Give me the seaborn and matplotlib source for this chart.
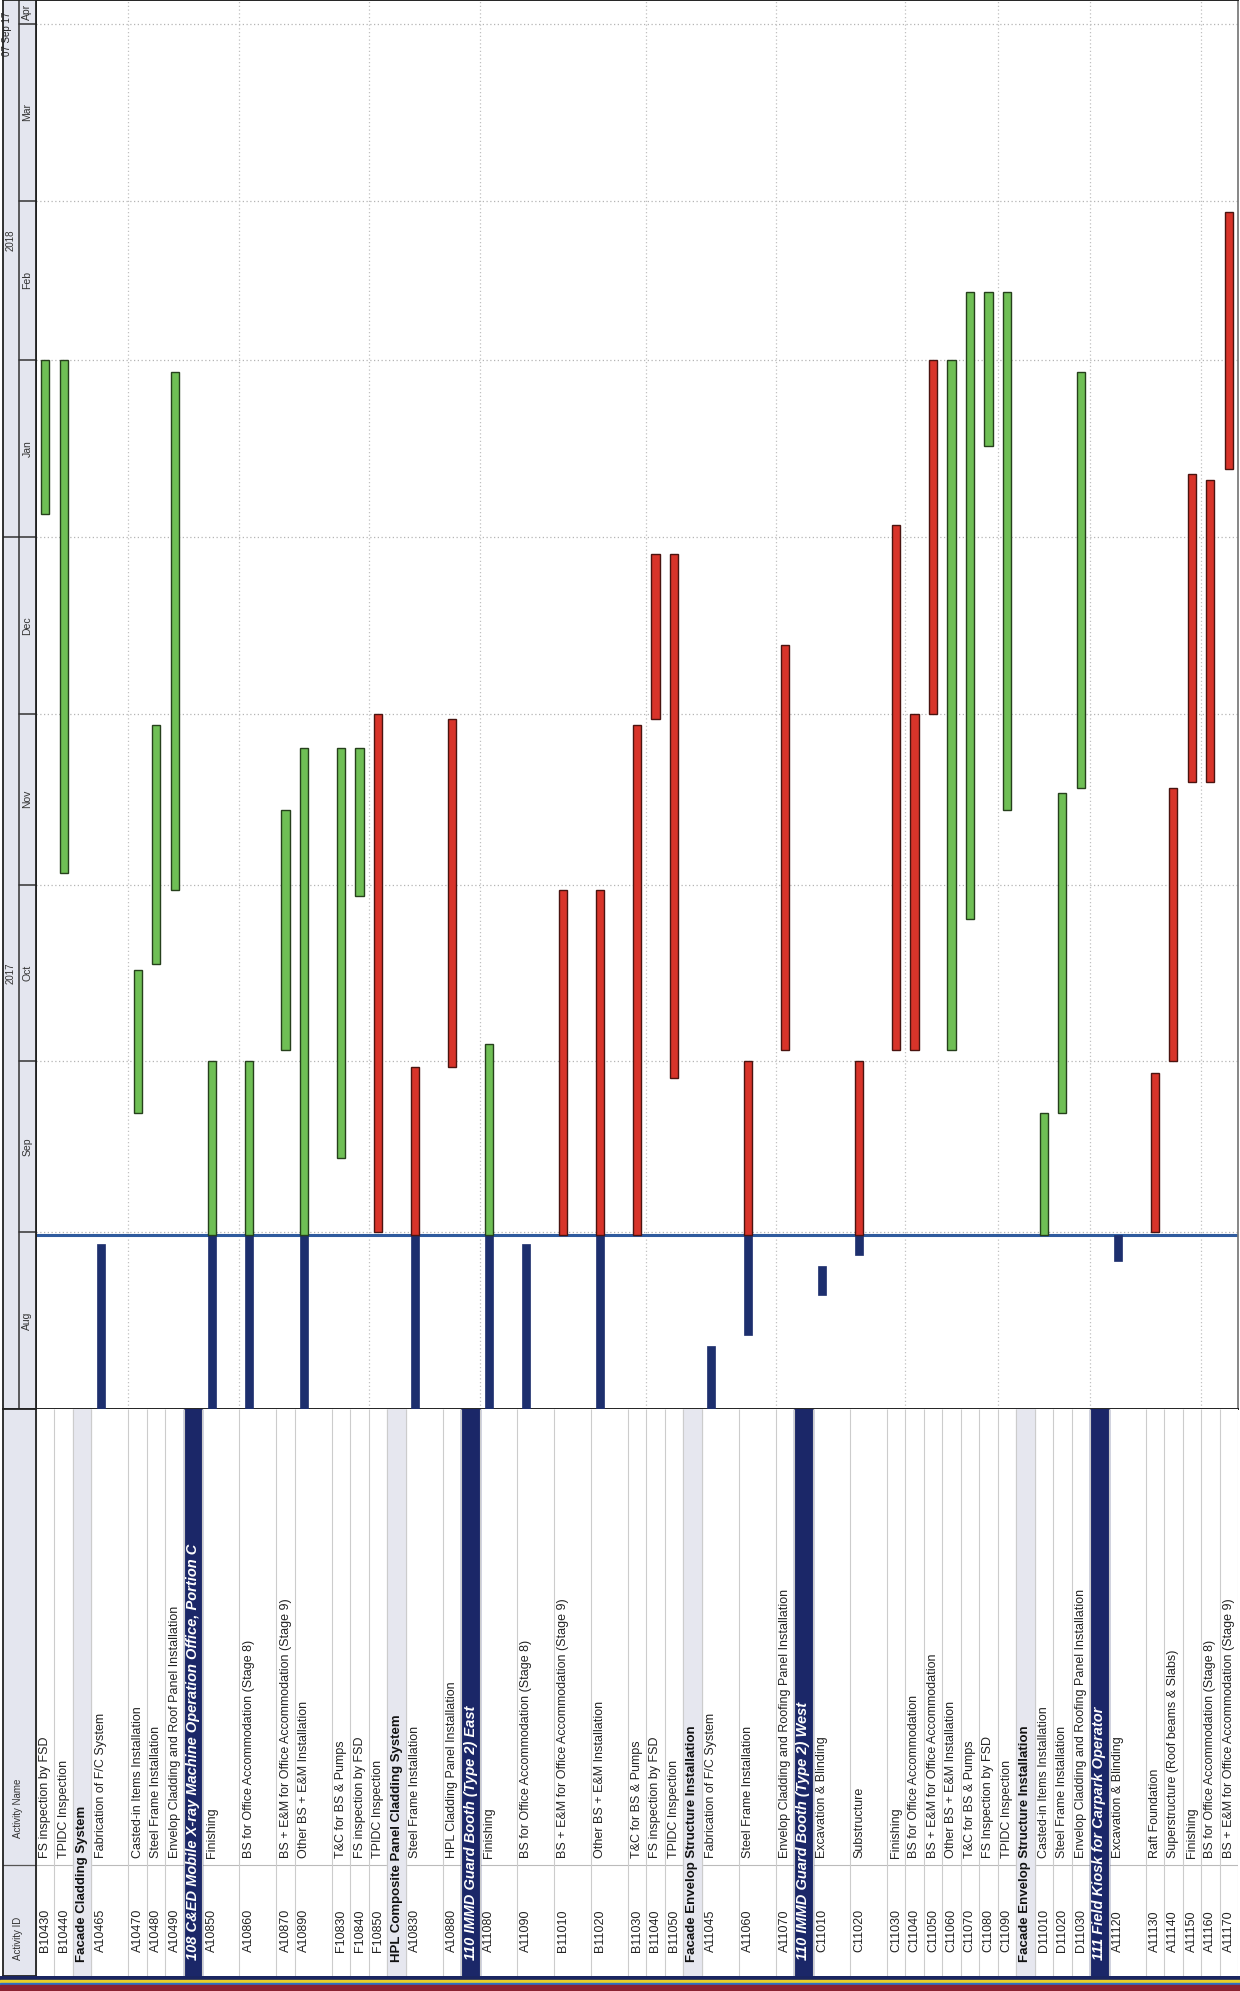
# Basics
import numpy as np
import pandas as pd

# Visualization
import matplotlib
matplotlib.use('Agg')
import matplotlib.pyplot as plt
import matplotlib.dates as mdates
import seaborn as sns

# ---------------------------------------------------------------
# Data: activity table (top-to-bottom order of the schedule)
# ---------------------------------------------------------------
activity_ids = ['B10430', 'B10440', '', 'A10465', 'A10470', 'A10480', 'A10490', '',
                'A10850', 'A10860', 'A10870', 'A10890', 'F10830', 'F10840', 'F10850', '',
                'A10830', 'A10880', '', 'A11080', 'A11090', 'B11010', 'B11020', 'B11030',
                'B11040', 'B11050', '', 'A11045', 'A11060', 'A11070', '', 'C11010', 'C11020',
                'C11030', 'C11040', 'C11050', 'C11060', 'C11070', 'C11080', 'C11090', '',
                'D11010', 'D11020', 'D11030', '', 'A11120', 'A11130', 'A11140', 'A11150',
                'A11160', 'A11170']

activity_names = ['FS inspection by FSD', 'TPIDC Inspection', 'Facade Cladding System',
                  'Fabrication of F/C System', 'Casted-in Items Installation',
                  'Steel Frame Installation', 'Envelop Cladding and Roof Panel Installation',
                  '108 C&ED Mobile X-ray Machine Operation Office, Portion C',
                  'Finishing', 'BS for Office Accommodation (Stage 8)',
                  'BS + E&M for Office Accommodation (Stage 9)', 'Other BS + E&M Installation',
                  'T&C for BS & Pumps', 'FS inspection by FSD', 'TPIDC Inspection',
                  'HPL Composite Panel Cladding System', 'Steel Frame Installation',
                  'HPL Cladding Panel Installation', '110 IMMD Guard Booth (Type 2) East',
                  'Finishing', 'BS for Office Accommodation (Stage 8)',
                  'BS + E&M for Office Accommodation (Stage 9)', 'Other BS + E&M Installation',
                  'T&C for BS & Pumps', 'FS inspection by FSD', 'TPIDC Inspection',
                  'Facade Envelop Structure Installation', 'Fabrication of F/C System',
                  'Steel Frame Installation', 'Envelop Cladding and Roofing Panel Installation',
                  '110 IMMD Guard Booth (Type 2) West', 'Excavation & Blinding', 'Substructure',
                  'Finishing', 'BS for Office Accommodation', 'BS + E&M for Office Accommodation',
                  'Other BS + E&M Installation', 'T&C for BS & Pumps', 'FS Inspection by FSD',
                  'TPIDC Inspection', 'Facade Envelop Structure Installation',
                  'Casted-in Items Installation', 'Steel Frame Installation',
                  'Envelop Cladding and Roofing Panel Installation',
                  '111 Field Kiosk for Carpark Operator', 'Excavation & Blinding',
                  'Raft Foundation', 'Superstructure (Roof beams & Slabs)', 'Finishing',
                  'BS for Office Accommodation (Stage 8)',
                  'BS + E&M for Office Accommodation (Stage 9)']

# task = activity, wbs1 = project band, wbs2 = sub group
row_levels = ['task', 'task', 'wbs2', 'task', 'task', 'task', 'task', 'wbs1',
              'task', 'task', 'task', 'task', 'task', 'task', 'task', 'wbs2',
              'task', 'task', 'wbs1', 'task', 'task', 'task', 'task', 'task',
              'task', 'task', 'wbs2', 'task', 'task', 'task', 'wbs1', 'task', 'task',
              'task', 'task', 'task', 'task', 'task', 'task', 'task', 'wbs2',
              'task', 'task', 'task', 'wbs1', 'task', 'task', 'task', 'task',
              'task', 'task']

# ---------------------------------------------------------------
# Data: bars (actual = done, remaining = non critical, critical)
# ---------------------------------------------------------------
data_date = '2017-08-31 12:00'

bar_ids = ['B10430', 'B10440', 'A10465', 'A10470', 'A10480', 'A10490',
           'A10850', 'A10850', 'A10860', 'A10860', 'A10870', 'A10890', 'A10890',
           'F10830', 'F10840', 'F10850', 'A10830', 'A10830', 'A10880',
           'A11080', 'A11080', 'A11090', 'B11010', 'B11020', 'B11020', 'B11030',
           'B11040', 'B11050', 'A11045', 'A11060', 'A11060', 'A11070',
           'C11010', 'C11020', 'C11020', 'C11030', 'C11040', 'C11050', 'C11060',
           'C11070', 'C11080', 'C11090', 'D11010', 'D11020', 'D11030',
           'A11120', 'A11130', 'A11140', 'A11150', 'A11160', 'A11170']

bar_starts = ['2018-01-05', '2017-11-03', '2017-08-01', '2017-09-22', '2017-10-18', '2017-10-31',
              '2017-08-01', data_date, '2017-08-01', data_date, '2017-10-03', '2017-08-01', data_date,
              '2017-09-14', '2017-10-30', '2017-09-01', '2017-08-01', data_date, '2017-09-30',
              '2017-08-01', data_date, '2017-08-01', data_date, '2017-08-01', data_date, data_date,
              '2017-11-30', '2017-09-28', '2017-08-01', '2017-08-14', data_date, '2017-10-03',
              '2017-08-21', '2017-08-28', data_date, '2017-10-03', '2017-10-03', '2017-12-01', '2017-10-03',
              '2017-10-26', '2018-01-17', '2017-11-14', data_date, '2017-09-22', '2017-11-18',
              '2017-08-27', '2017-09-01', '2017-10-01', '2017-11-19', '2017-11-19', '2018-01-13']

bar_finishes = ['2018-02-01', '2018-02-01', '2017-08-30', '2017-10-17', '2017-11-29', '2018-01-30',
                data_date, '2017-10-01', data_date, '2017-10-01', '2017-11-14', data_date, '2017-11-25',
                '2017-11-25', '2017-11-25', '2017-12-01', data_date, '2017-09-30', '2017-11-30',
                data_date, '2017-10-04', '2017-08-30', '2017-10-31', data_date, '2017-10-31', '2017-11-29',
                '2017-12-29', '2017-12-29', '2017-08-12', data_date, '2017-10-01', '2017-12-13',
                '2017-08-26', data_date, '2017-10-01', '2018-01-03', '2017-12-01', '2018-02-01', '2018-02-01',
                '2018-02-13', '2018-02-13', '2018-02-13', '2017-09-22', '2017-11-17', '2018-01-30',
                data_date, '2017-09-29', '2017-11-18', '2018-01-12', '2018-01-11', '2018-02-27']

bar_kinds = ['remaining', 'remaining', 'actual', 'remaining', 'remaining', 'remaining',
             'actual', 'remaining', 'actual', 'remaining', 'remaining', 'actual', 'remaining',
             'remaining', 'remaining', 'critical', 'actual', 'critical', 'critical',
             'actual', 'remaining', 'actual', 'critical', 'actual', 'critical', 'critical',
             'critical', 'critical', 'actual', 'actual', 'critical', 'critical',
             'actual', 'actual', 'critical', 'critical', 'critical', 'critical', 'remaining',
             'remaining', 'remaining', 'remaining', 'remaining', 'remaining', 'remaining',
             'actual', 'critical', 'critical', 'critical', 'critical', 'critical']

# ---------------------------------------------------------------
# Layout (pixels of the 1240 x 1991 page)
# ---------------------------------------------------------------
row_units = [1, 1, 1, 2, 1, 1, 1, 1,
             2, 2, 1, 2, 1, 1, 1, 1,
             2, 1, 1, 2, 2, 2, 2, 1,
             1, 1, 1, 2, 2, 1, 1, 2, 2,
             1, 1, 1, 1, 1, 1, 1, 1,
             1, 1, 1, 1, 2, 1, 1, 1,
             1, 1]

W, H = 1240, 1991
px_left, px_right = 36, 1238          # schedule columns
px_gantt_bottom = 1409                # gantt / table border
px_table_bottom = 1976
px_id_sep = 1865
px_per_day = 5.7

bar_style = {'actual': dict(color='#1d2f6e', edgecolor='#1d2f6e', linewidth=0.5),
             'remaining': dict(color='#6fbf55', edgecolor='#26401c', linewidth=1.0),
             'critical': dict(color='#d8342a', edgecolor='#4a1410', linewidth=1.0)}
navy = '#1b2768'
header_fill = '#e4e6ef'

# ---------------------------------------------------------------
# Helpers
# ---------------------------------------------------------------
def fig_rect(x0, y0, x1, y1):
    '''Convert a pixel box (top-left origin) into a figure rectangle.'''
    return [x0 / W, 1 - y1 / H, (x1 - x0) / W, (y1 - y0) / H]

row_start = np.concatenate([[0], np.cumsum(row_units)[:-1]])
n_units = int(np.sum(row_units))
row_of_id = {a: i for i, a in enumerate(activity_ids) if a}

t0 = mdates.date2num(pd.Timestamp('2017-08-01'))
t1 = t0 + px_gantt_bottom / px_per_day
months = pd.date_range('2017-08-01', '2018-04-01', freq='MS')

# ---------------------------------------------------------------
# Figure
# ---------------------------------------------------------------
sns.set_theme(style='white')
plt.rcParams['font.family'] = ['Liberation Sans', 'DejaVu Sans']

fig = plt.figure(figsize=(W / 100, H / 100), dpi=100)
fig.patch.set_facecolor('white')

# Gantt area
ax = fig.add_axes(fig_rect(px_left, 0, px_right, px_gantt_bottom))
ax.set_xlim(0, n_units)
ax.set_ylim(t0, t1)

for m in months:
    ax.axhline(mdates.date2num(m), color='#b5b5b5', lw=0.9, ls=(0, (1, 2)), zorder=1)
for i in range(4, len(row_start), 5):
    ax.axvline(row_start[i], color='#c0c0c0', lw=0.9, ls=(0, (1, 2)), zorder=1)

ax.axhline(mdates.date2num(pd.Timestamp(data_date)), color='#2f5b9e', lw=2.2, zorder=2)

starts = mdates.date2num(pd.to_datetime(bar_starts, format='mixed'))
finishes = mdates.date2num(pd.to_datetime(bar_finishes, format='mixed'))
for bid, s, f, kind in zip(bar_ids, starts, finishes, bar_kinds):
    x = row_start[row_of_id[bid]] + 0.5
    ax.bar(x, f - s, bottom=s, width=0.45, zorder=3, **bar_style[kind])

ax.set_xticks([])
ax.set_yticks([])
for side in ['left', 'bottom', 'top']:
    ax.spines[side].set_color('#222222')
    ax.spines[side].set_linewidth(1.4)
ax.spines['right'].set_color('#777777')

# Timescale header (years + months)
ax_t = fig.add_axes(fig_rect(3, 0, px_left, px_gantt_bottom))
ax_t.set_xlim(0, 1)
ax_t.set_ylim(t0, t1)
ax_t.set_facecolor(header_fill)
ax_t.axvline(0.48, color='#333333', lw=1.1)
for m in months[1:]:
    ax_t.plot([0.48, 1], [mdates.date2num(m)] * 2, color='#333333', lw=1.1)
month_edges = list(mdates.date2num(months)) + [t1]
for m, a, b in zip(months, month_edges[:-1], month_edges[1:]):
    ax_t.text(0.74, (a + min(b, t1)) / 2, m.strftime('%b'), rotation=90,
              ha='center', va='center', fontsize=7.5, color='#333333')
jan = mdates.date2num(pd.Timestamp('2018-01-01'))
ax_t.plot([0, 0.48], [jan, jan], color='#333333', lw=1.1)
ax_t.text(0.24, (t0 + jan) / 2, '2017', rotation=90, ha='center', va='center',
          fontsize=7, color='#333333')
ax_t.text(0.24, (jan + t1) / 2 + 5, '2018', rotation=90, ha='center', va='center',
          fontsize=7, color='#333333')
ax_t.set_xticks([])
ax_t.set_yticks([])
for sp in ax_t.spines.values():
    sp.set_color('#222222')
    sp.set_linewidth(1.3)

# Activity table
ax_tab = fig.add_axes(fig_rect(px_left, px_gantt_bottom, px_right, px_table_bottom))
ax_tab.set_xlim(0, n_units)
ax_tab.set_ylim(px_table_bottom, px_gantt_bottom)

for i, (aid, name, level) in enumerate(zip(activity_ids, activity_names, row_levels)):
    x0 = row_start[i]
    xc = x0 + 0.5
    if level == 'wbs1':
        ax_tab.axvspan(x0, x0 + row_units[i], color=navy, zorder=1)
        ax_tab.text(xc, 1960, name, rotation=90, rotation_mode='anchor', ha='left',
                    va='center', fontsize=10.5, color='white', fontweight='bold',
                    fontstyle='italic', zorder=3)
    elif level == 'wbs2':
        ax_tab.axvspan(x0, x0 + row_units[i], color='#e6e7ef', zorder=1)
        ax_tab.text(xc, 1962, name, rotation=90, rotation_mode='anchor', ha='left',
                    va='center', fontsize=9.5, color='#111111', fontweight='bold', zorder=3)
    else:
        ax_tab.text(xc, 1952, aid, rotation=90, rotation_mode='anchor', ha='left',
                    va='center', fontsize=9, color='#222222', zorder=3)
        ax_tab.text(xc, 1858, name, rotation=90, rotation_mode='anchor', ha='left',
                    va='center', fontsize=9, color='#222222', zorder=3)

ax_tab.vlines(np.append(row_start, n_units), px_gantt_bottom, px_table_bottom,
              color='#cccccc', lw=0.8, zorder=2)
ax_tab.axhline(px_id_sep, color='#bbbbbb', lw=0.8, zorder=0)
ax_tab.set_xticks([])
ax_tab.set_yticks([])
for sp in ax_tab.spines.values():
    sp.set_visible(False)

# Table column headers
ax_h = fig.add_axes(fig_rect(3, px_gantt_bottom, px_left, px_table_bottom))
ax_h.set_xlim(0, 1)
ax_h.set_ylim(px_table_bottom, px_gantt_bottom)
ax_h.set_facecolor(header_fill)
ax_h.axhline(px_id_sep, color='#555555', lw=0.9)
ax_h.text(0.45, 1838, 'Activity Name', rotation=90, rotation_mode='anchor', ha='left',
          va='center', fontsize=7, color='#333333')
ax_h.text(0.45, 1960, 'Activity ID', rotation=90, rotation_mode='anchor', ha='left',
          va='center', fontsize=7, color='#333333')
ax_h.set_xticks([])
ax_h.set_yticks([])
for sp in ax_h.spines.values():
    sp.set_color('#222222')
    sp.set_linewidth(1.3)

# Print date fragment at the page corner
fig.text(2 / W, 1 - 34 / H, '07 Sep 17', rotation=90, ha='left', va='center',
         fontsize=7, color='#222222')

# Coloured tabs at the page bottom
ax_s = fig.add_axes(fig_rect(0, px_table_bottom, W, H))
ax_s.set_xlim(0, 1)
ax_s.set_ylim(H, px_table_bottom)
for (a, b), c in zip([(1976, 1980), (1980, 1983), (1983, 1985), (1985, 1991)],
                     ['#1a2560', '#e8cf2a', '#2d6fc4', '#8b2232']):
    ax_s.axhspan(a, b, color=c)
ax_s.axis('off')

fig.savefig('out.png', dpi=100, facecolor='white')
